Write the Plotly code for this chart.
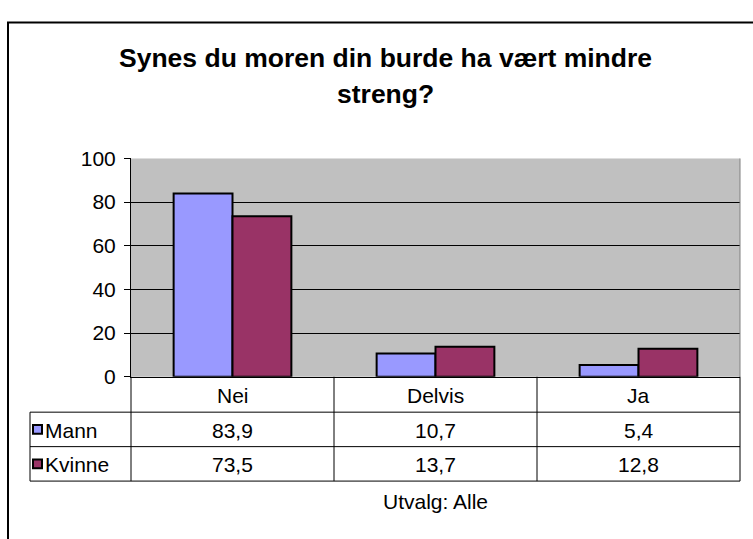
import plotly.graph_objects as go

categories = ["Nei", "Delvis", "Ja"]
series_names = ["Mann", "Kvinne"]
mann = [83.9, 10.7, 5.4]
kvinne = [73.5, 13.7, 12.8]
colors = ["#9999FF", "#993366"]
y_ticks = [0, 20, 40, 60, 80, 100]

W, H = 753, 539
FONT = "Liberation Sans, Arial, sans-serif"
FS = 21


def X(px):
    return px / W


def Y(py):
    return 1 - py / H


# layout geometry (page pixels)
PL, PR, PT, PB = 131, 740, 153, 381
ROW_Y = [381, 418, 454, 490]
TABLE_LEFT = 30
col_edges = [PL + (PR - PL) * i / len(categories) for i in range(len(categories) + 1)]

fig = go.Figure()
for name, vals, col in zip(series_names, [mann, kvinne], colors):
    fig.add_trace(go.Bar(
        x=categories, y=vals, name=name,
        marker=dict(color=col, line=dict(color="black", width=2)),
        showlegend=False,
    ))

shapes = []
annotations = []

# outer border
shapes.append(dict(type="rect", xref="paper", yref="paper",
                   x0=X(8), x1=X(770), y0=Y(560), y1=Y(11),
                   line=dict(color="black", width=2), fillcolor="rgba(0,0,0,0)", layer="below"))


def hline(py, x0, x1, color="black"):
    shapes.append(dict(type="line", xref="paper", yref="paper", x0=X(x0), x1=X(x1),
                       y0=Y(py), y1=Y(py), line=dict(color=color, width=1)))


def vline(px, y0, y1, color="black"):
    shapes.append(dict(type="line", xref="paper", yref="paper", x0=X(px), x1=X(px),
                       y0=Y(y0), y1=Y(y1), line=dict(color=color, width=1)))


# right edge of plot area
vline(PR, PB, PT, "#808080")
# table grid
for py in ROW_Y[1:]:
    hline(py, TABLE_LEFT, PR)
vline(TABLE_LEFT, ROW_Y[1], ROW_Y[3])
for px in col_edges:
    vline(px, ROW_Y[0], ROW_Y[3])

# header text
for i, c in enumerate(categories):
    cx = (col_edges[i] + col_edges[i + 1]) / 2
    annotations.append(dict(x=X(cx), y=Y((ROW_Y[0] + ROW_Y[1]) / 2 + 1), xref="paper", yref="paper",
                            text=c, showarrow=False, xanchor="center", yanchor="middle",
                            font=dict(family=FONT, size=FS, color="black")))

# data rows
for r, (name, vals, col) in enumerate(zip(series_names, [mann, kvinne], colors)):
    ymid = (ROW_Y[r + 1] + ROW_Y[r + 2]) / 2
    shapes.append(dict(type="rect", xref="paper", yref="paper",
                       x0=X(33), x1=X(42), y0=Y(ymid + 4.5), y1=Y(ymid - 4.5),
                       fillcolor=col, line=dict(color="black", width=2)))
    annotations.append(dict(x=X(43), y=Y(ymid + 1), xref="paper", yref="paper",
                            text=name, showarrow=False, xanchor="left", yanchor="middle",
                            font=dict(family=FONT, size=FS, color="black")))
    for i, v in enumerate(vals):
        cx = (col_edges[i] + col_edges[i + 1]) / 2
        annotations.append(dict(x=X(cx), y=Y(ymid + 1), xref="paper", yref="paper",
                                text=f"{v:.1f}".replace(".", ","), showarrow=False,
                                xanchor="center", yanchor="middle",
                                font=dict(family=FONT, size=FS, color="black")))

# title (two lines as in the original)
for txt, py in [("Synes du moren din burde ha vært mindre", 48), ("streng?", 86)]:
    annotations.append(dict(x=X(385), y=Y(py), xref="paper", yref="paper",
                            text=f"<b>{txt}</b>", showarrow=False, xanchor="center", yanchor="middle",
                            font=dict(family=FONT, size=26.5, color="black")))
# footnote
annotations.append(dict(x=X(435), y=Y(511), xref="paper", yref="paper",
                        text="Utvalg: Alle", showarrow=False, xanchor="center", yanchor="middle",
                        font=dict(family=FONT, size=FS, color="black")))

fig.update_layout(
    width=W, height=H,
    margin=dict(l=0, r=0, t=0, b=0),
    paper_bgcolor="white", plot_bgcolor="#C0C0C0",
    barmode="group", bargap=0.42, bargroupgap=0,
    shapes=shapes, annotations=annotations,
    xaxis=dict(domain=[X(PL), X(PR)], showticklabels=False, ticks="",
               showline=True, linecolor="black", linewidth=1,
               showgrid=False, fixedrange=True),
    yaxis=dict(domain=[Y(PB), Y(PT)], range=[0, 100], tickvals=y_ticks,
               ticks="outside", ticklen=6, tickcolor="black",
               showline=True, linecolor="black", linewidth=1,
               showgrid=True, gridcolor="black", gridwidth=1, zeroline=False,
               tickfont=dict(family=FONT, size=FS, color="black"), ticklabelstandoff=4,
               fixedrange=True),
)

fig.write_html(
    "out.html",
    config={"displayModeBar": False},
    post_script="document.body.style.margin='0';document.body.style.overflow='hidden';",
)
